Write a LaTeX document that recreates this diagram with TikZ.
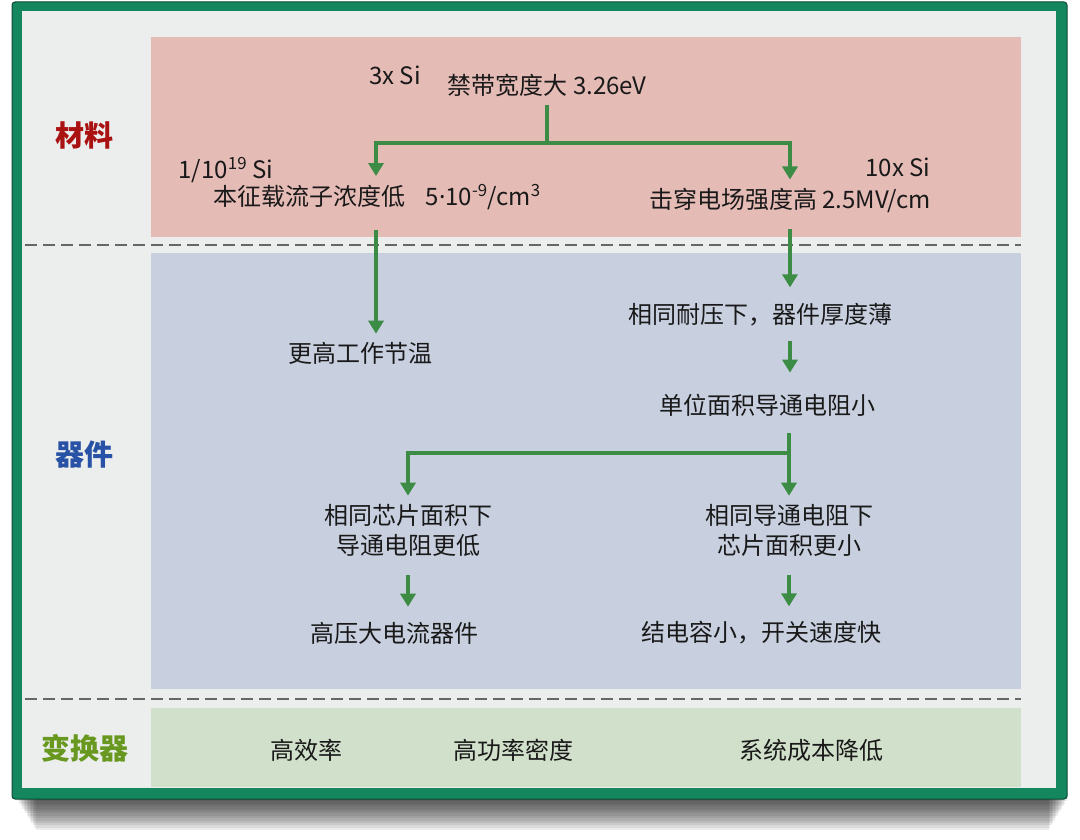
\documentclass[tikz,border=0pt]{standalone}
\usepackage{fontspec}
\setmainfont{Noto Sans CJK SC}
\newfontfamily\latinfont{Noto Sans}
\usetikzlibrary{arrows.meta,positioning}
\definecolor{scframe}{RGB}{20,135,95}
\definecolor{scback}{RGB}{236,237,237}
\definecolor{scpink}{RGB}{229,187,182}
\definecolor{scblue}{RGB}{200,208,224}
\definecolor{scgreen}{RGB}{209,224,203}
\definecolor{scarrow}{RGB}{60,140,70}
\definecolor{scred}{RGB}{170,18,18}
\definecolor{scnavy}{RGB}{40,82,165}
\definecolor{scolive}{RGB}{104,152,32}
\newcommand{\scpanel}[3]{%
  \fill[#3] (151,#1) rectangle (1021,#2);
}
\newcommand{\scdash}[1]{%
  \draw[black!60,line width=1.6pt,dash pattern=on 12pt off 6pt] (25,#1) -- (1021,#1);
}

\begin{document}
\begin{tikzpicture}[x=1pt,y=-1pt,font=\fontsize{24}{30}\selectfont,
    txt/.style={inner sep=8pt,text=black!90,align=center},
    lab/.style={font=\fontsize{29}{32}\selectfont\bfseries},
    link/.style={draw=scarrow,line width=4.5pt},
    flow/.style={link,-{Triangle[width=15pt,length=13pt]}}]
    \useasboundingbox (0,0) rectangle (1080,840);
    \foreach \k in {0,...,13}
      \fill[black,opacity=.075] (16+1.5*\k,793) rectangle (1068-1.5*\k,799+2.4*\k);
    \draw[fill=scframe,draw=scframe!55!black,line width=1pt,rounded corners=3pt] (12,2) rectangle (1067,799);
    \fill[scback] (22,11) rectangle (1056,788);
    \scpanel{37}{237}{scpink}
    \scpanel{253}{689}{scblue}
    \scpanel{708}{787}{scgreen}
    \scdash{245}
    \scdash{699}

    \node[lab,text=scred] (mat) at (85,135) {材料};
    \node[lab,text=scnavy] (dev) at (85,455) {器件};
    \node[lab,text=scolive] (conv) at (85,748) {变换器};

    \node[txt] (gap) at (547,85) {禁带宽度大 3.26eV};
    \node[txt] (gapx) at (395,75) {3x Si};
    \node[txt] (ni) at (377,197) {本征载流子浓度低\hspace{.85em}5{\latinfont ·}10\textsuperscript{-9}/cm\textsuperscript{3}};
    \node[txt] (nix) at (226,170) {1/10\textsuperscript{19} Si};
    \node[txt] (ec) at (790,200) {击穿电场强度高 2.5MV/cm};
    \node[txt] (ecx) at (898,167) {10x Si};
    \node[txt] (tj) at (360,353) {更高工作节温};
    \node[txt] (thin) at (760,315) {相同耐压下，器件厚度薄};
    \node[txt] (ron) at (767,405) {单位面积导通电阻小};
    \node[txt] (lowr) at (408,530) {相同芯片面积下\\导通电阻更低};
    \node[txt] (small) at (789,530) {相同导通电阻下\\芯片面积更小};
    \node[txt] (hv) at (394,633) {高压大电流器件};
    \node[txt] (fast) at (761,633) {结电容小，开关速度快};
    \node[txt] (eff) at (306,750) {高效率};
    \node[txt] (dens) at (513,750) {高功率密度};
    \node[txt] (cost) at (811,750) {系统成本降低};

    \coordinate (br1) at (547,143);
    \coordinate (br2) at (789,453);
    \draw[link] (gap.south) -- (br1);
    \draw[flow] (br1) -| ([xshift=-1pt]ni.north);
    \draw[flow] (br1) -| (ec.north);
    \draw[flow,shorten <=12pt] ([xshift=-1pt]ni.south) -- ([xshift=-1pt]ni.south |- tj.north);
    \draw[flow,shorten <=9pt,shorten >=8pt] (ec.south) -- (ec.south |- thin.north);
    \draw[flow,shorten <=6pt,shorten >=13pt] (ec.south |- thin.south) -- (ec.south |- ron.north);
    \draw[link,shorten <=9pt] (br2 |- ron.south) -- (br2);
    \draw[flow] (br2) -| (lowr.north);
    \draw[flow] (br2) -- (small.north);
    \draw[flow,shorten <=11pt,shorten >=7pt] (lowr.south) -- (lowr.south |- hv.north);
    \draw[flow,shorten <=11pt,shorten >=7pt] (small.south) -- (small.south |- fast.north);
  \end{tikzpicture}
\end{document}
